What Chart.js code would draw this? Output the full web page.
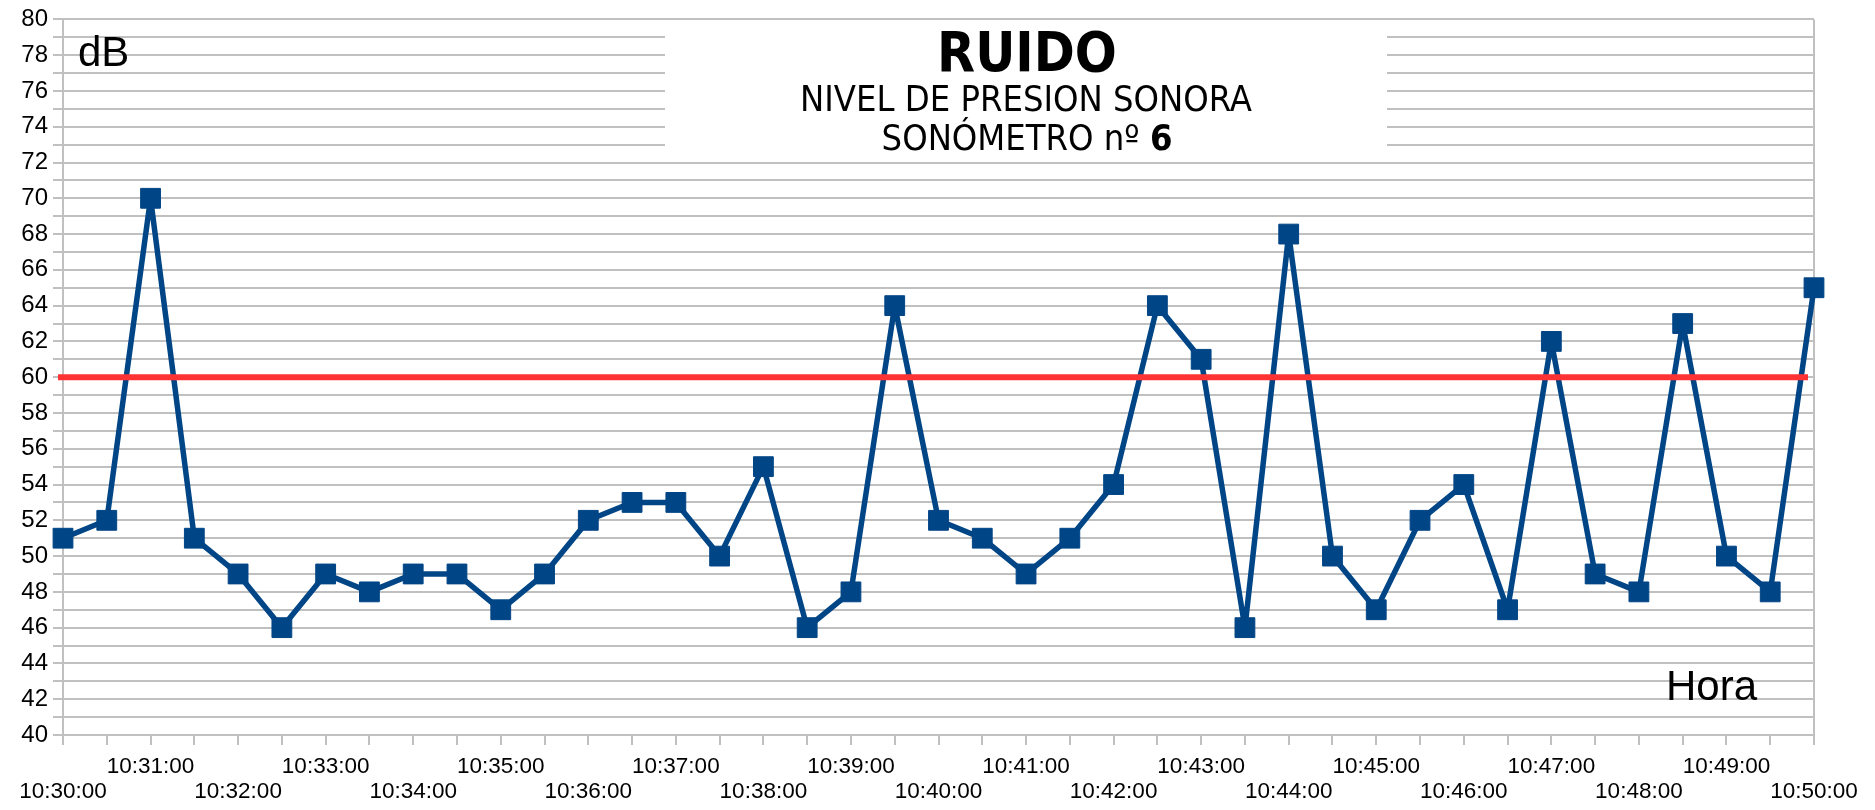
<!DOCTYPE html>
<html>
<head>
<meta charset="utf-8">
<script src="https://cdn.jsdelivr.net/npm/chart.js@4"></script>
<style>
html, body { margin:0; padding:0; background:#fff; }
</style>
</head>
<body>
<canvas id="myChart" width="1875" height="810"></canvas>
<script>

var horas = ["10:30:00","10:30:30","10:31:00","10:31:30","10:32:00","10:32:30","10:33:00","10:33:30",
  "10:34:00","10:34:30","10:35:00","10:35:30","10:36:00","10:36:30","10:37:00","10:37:30",
  "10:38:00","10:38:30","10:39:00","10:39:30","10:40:00","10:40:30","10:41:00","10:41:30",
  "10:42:00","10:42:30","10:43:00","10:43:30","10:44:00","10:44:30","10:45:00","10:45:30",
  "10:46:00","10:46:30","10:47:00","10:47:30","10:48:00","10:48:30","10:49:00","10:49:30","10:50:00"];
var ruido = [51,52,70,51,49,46,49,48,49,49,47,49,52,53,53,50,55,46,48,64,52,51,49,51,54,64,61,46,68,50,47,52,54,47,62,49,48,63,50,48,65];
var limite = 60;
var yMin = 40, yMax = 80;

var titulo = "RUIDO";
var subtitulo = "NIVEL DE PRESION SONORA";
var sonometro = "SONÓMETRO nº ";
var numSonometro = "6";

var gris = '#c0c0c0';

var deco = {
  id: 'deco',
  beforeDatasetsDraw: function(chart) {
    var ctx = chart.ctx, a = chart.chartArea, y = chart.scales.y;
    ctx.save();
    // borde derecho
    ctx.strokeStyle = gris;
    ctx.lineWidth = 2;
    ctx.beginPath();
    ctx.moveTo(a.right, a.top);
    ctx.lineTo(a.right, a.bottom);
    ctx.stroke();
    // caja del titulo
    var t = y.getPixelForValue(79.8), b = y.getPixelForValue(72.3);
    ctx.fillStyle = '#fff';
    ctx.fillRect(665, t, 722, b - t);
    ctx.fillStyle = '#000';
    ctx.textAlign = 'center';
    ctx.textBaseline = 'alphabetic';
    ctx.font = 'bold 55px "DejaVu Sans Condensed", "DejaVu Sans"';
    ctx.fillText(titulo, 1027, 71);
    ctx.font = '36px "DejaVu Sans Condensed", "DejaVu Sans"';
    ctx.fillText(subtitulo, 1026, 111);
    var f1 = '36px "DejaVu Sans Condensed", "DejaVu Sans"';
    var f2 = 'bold 36px "DejaVu Sans Condensed", "DejaVu Sans"';
    ctx.font = f1;
    var w1 = ctx.measureText(sonometro).width;
    ctx.font = f2;
    var w2 = ctx.measureText(numSonometro).width;
    var x0 = 1027 - (w1 + w2) / 2;
    ctx.textAlign = 'left';
    ctx.font = f1;
    ctx.fillText(sonometro, x0, 150);
    ctx.font = f2;
    ctx.fillText(numSonometro, x0 + w1, 150);
    ctx.restore();
  },
  afterDatasetsDraw: function(chart) {
    var ctx = chart.ctx, a = chart.chartArea, y = chart.scales.y;
    ctx.save();
    var py = y.getPixelForValue(limite);
    ctx.strokeStyle = '#ff3333';
    ctx.lineWidth = 6;
    ctx.beginPath();
    ctx.moveTo(a.left - 5, py);
    ctx.lineTo(a.right - 6, py);
    ctx.stroke();
    ctx.fillStyle = '#000';
    ctx.font = '42px "Liberation Sans", Arial, sans-serif';
    ctx.textAlign = 'left';
    ctx.fillText('dB', 78, 66);
    ctx.fillText('Hora', 1666, 700);
    ctx.restore();
  }
};

new Chart("myChart", {
  type: "line",
  data: {
    labels: horas,
    datasets: [{
      data: ruido,
      borderColor: '#004586',
      backgroundColor: '#004586',
      borderWidth: 5.5,
      borderJoinStyle: 'round',
      pointStyle: 'rect',
      pointRadius: 14,
      pointBorderWidth: 1,
      pointBorderColor: '#004586',
      pointBackgroundColor: '#004586',
      tension: 0
    }]
  },
  options: {
    responsive: false,
    animation: false,
    plugins: {
      legend: {display: false},
      tooltip: {enabled: false}
    },
    layout: {padding: {top: 12, right: 61, left: 0, bottom: 0}},
    scales: {
      x: {
        offset: false,
        grid: {drawOnChartArea: false, color: gris, lineWidth: 2, tickLength: 10},
        border: {color: gris, width: 2},
        afterFit: function(s) { s.height = 75; },
        ticks: {
          autoSkip: false,
          maxRotation: 0,
          minRotation: 0,
          padding: 9,
          color: '#000',
          font: {family: '"Liberation Sans", Arial, sans-serif', size: 22.5, lineHeight: 1.12},
          callback: function(v, i) {
            if (i % 2) return '';
            return i % 4 === 0 ? ['', horas[i]] : [horas[i]];
          }
        }
      },
      y: {
        min: yMin,
        max: yMax,
        grid: {color: gris, lineWidth: 2, tickLength: 10},
        border: {color: gris, width: 2},
        afterFit: function(s) { s.width = 63; },
        ticks: {
          stepSize: 1,
          autoSkip: false,
          padding: 5,
          color: '#000',
          font: {family: '"Liberation Sans", Arial, sans-serif', size: 24},
          callback: function(v) { return v % 2 === 0 ? v : ''; }
        }
      }
    }
  },
  plugins: [deco]
});

</script>
</body>
</html>
